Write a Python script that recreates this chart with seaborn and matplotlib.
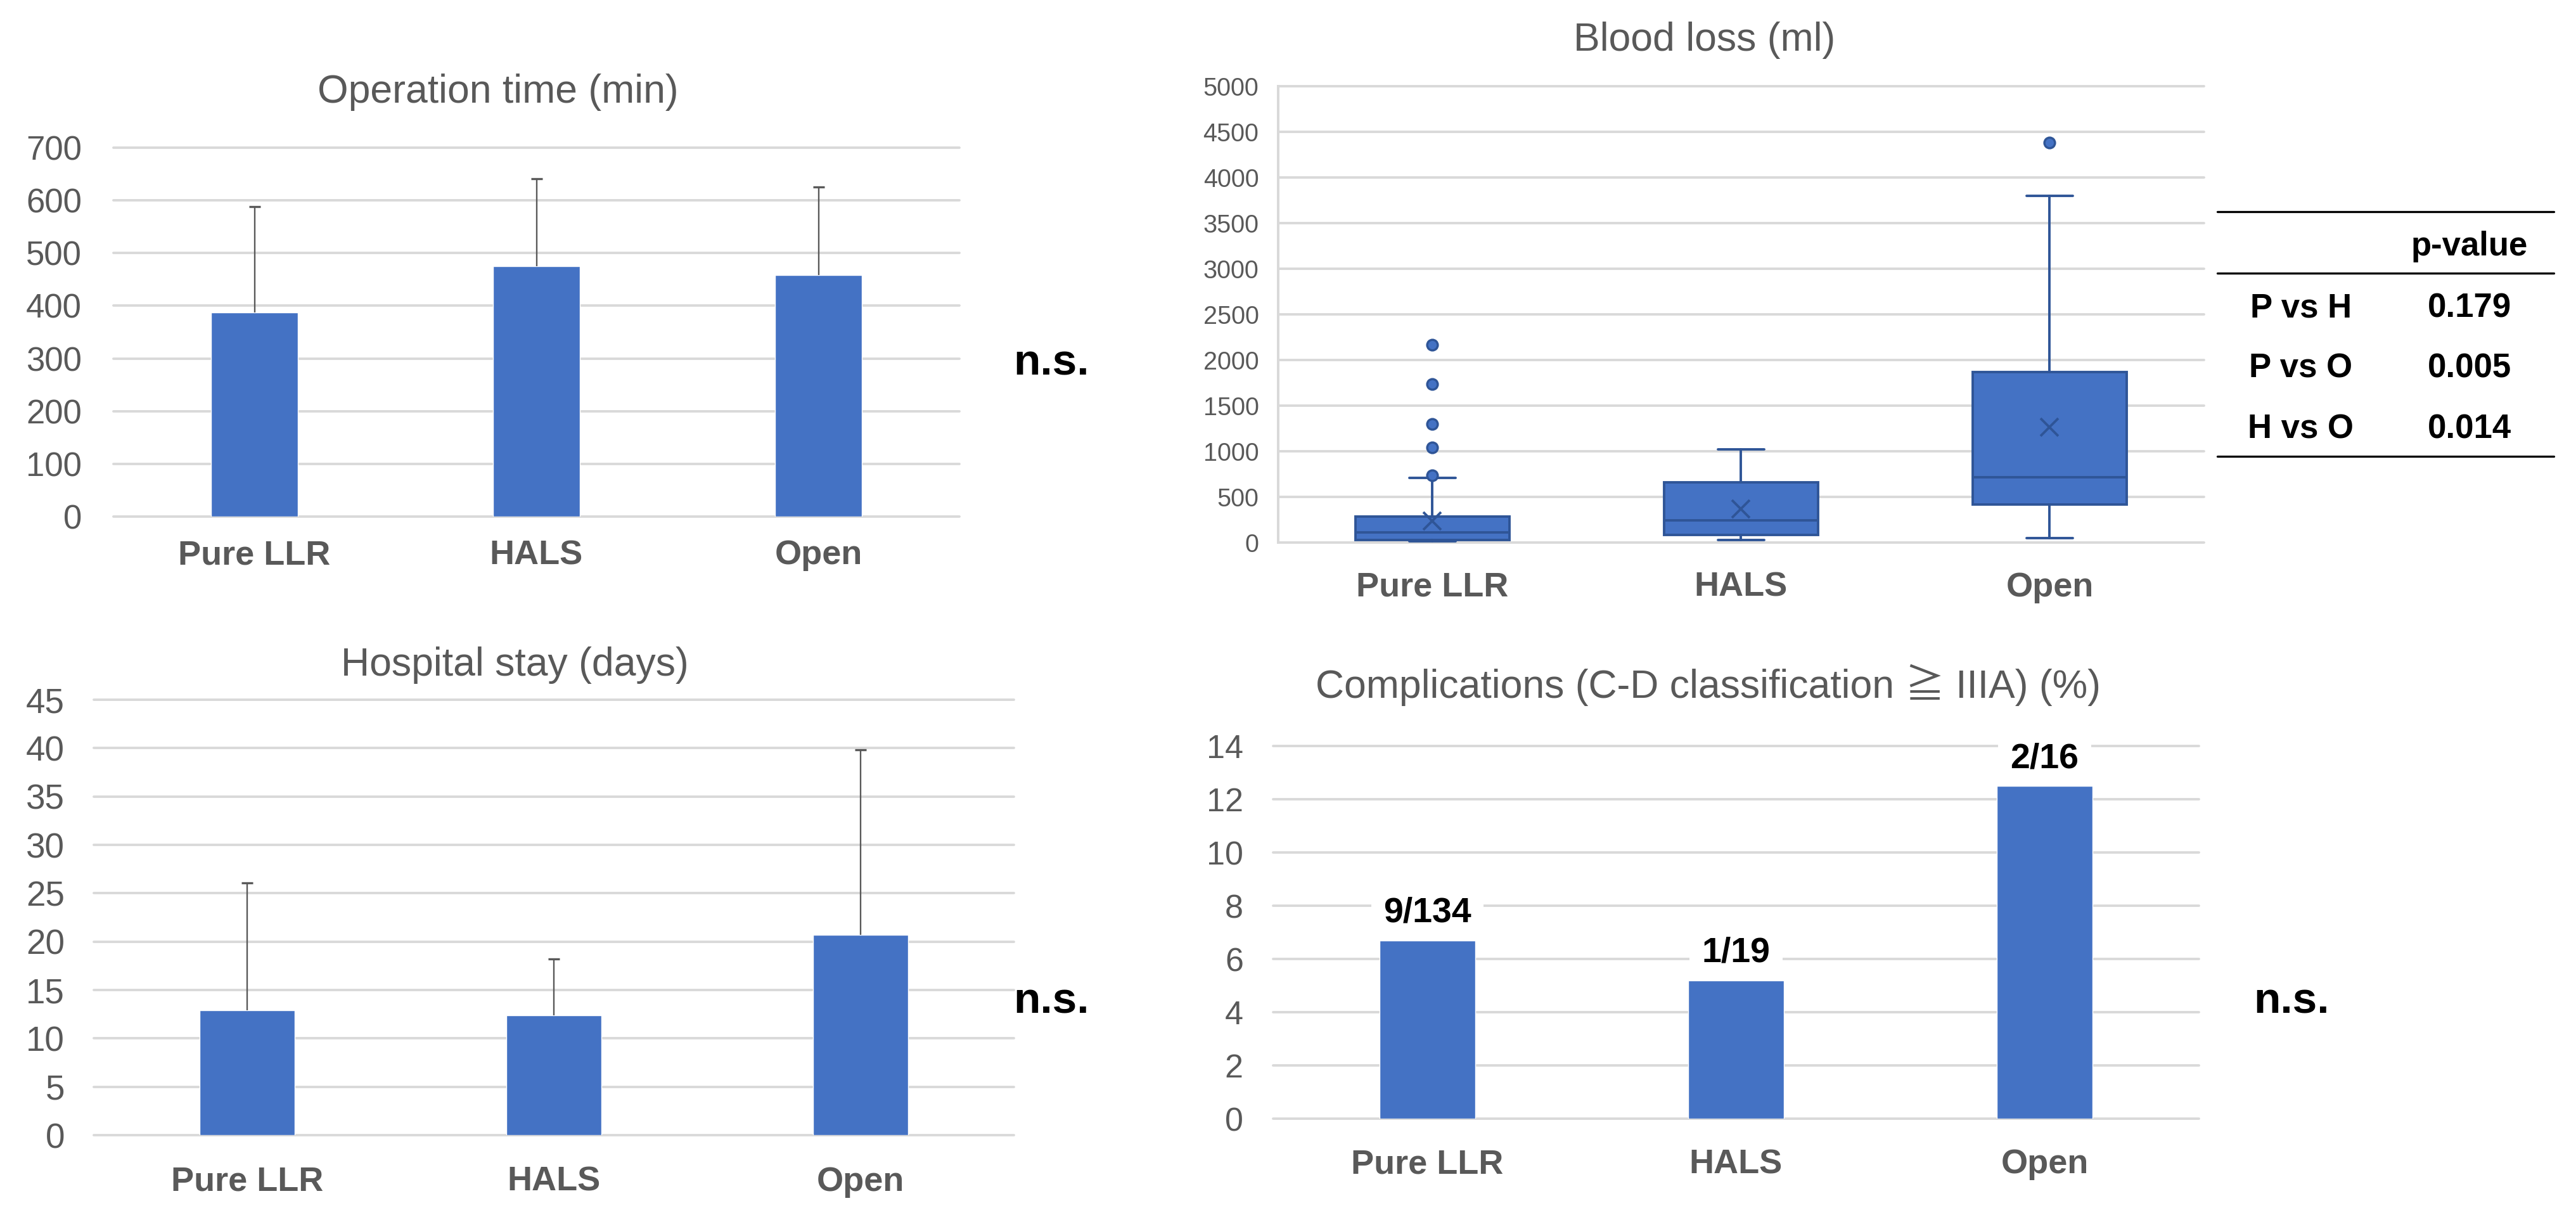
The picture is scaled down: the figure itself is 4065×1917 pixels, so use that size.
import numpy as np
import pandas as pd
import matplotlib
matplotlib.use("Agg")
import matplotlib.pyplot as plt
import seaborn as sns
from matplotlib.lines import Line2D

# ---------------- data ----------------
categories = ["Pure LLR", "HALS", "Open"]

op_mean = [387, 475, 458]
op_sd = [201, 166, 167]
op_ticks = [0, 100, 200, 300, 400, 500, 600, 700]

stay_mean = [12.9, 12.4, 20.7]
stay_sd = [13.2, 5.8, 19.1]
stay_ticks = [0, 5, 10, 15, 20, 25, 30, 35, 40, 45]

blood_whislo = [15, 30, 49]
blood_q1 = [28, 80, 419]
blood_med = [111, 243, 715]
blood_q3 = [285, 660, 1868]
blood_whishi = [710, 1023, 3796]
blood_mean = [237, 368, 1264]
blood_fliers = [[736, 1042, 1300, 1733, 2169], [], [4385]]
blood_ticks = [0, 500, 1000, 1500, 2000, 2500, 3000, 3500, 4000, 4500, 5000]

comp_pct = [6.7, 5.2, 12.5]
comp_labels = ["9/134", "1/19", "2/16"]
comp_ticks = [0, 2, 4, 6, 8, 10, 12, 14]

pv_rows = ["P vs H", "P vs O", "H vs O"]
pv_values = ["0.179", "0.005", "0.014"]

titles = ["Operation time (min)", "Blood loss (ml)", "Hospital stay (days)",
          "Complications (C-D classification \u2267 IIIA) (%)"]

# ---------------- style ----------------
sns.set_style("white")
plt.rcParams["font.family"] = ["Liberation Sans", "Noto Sans CJK JP", "DejaVu Sans"]

BLUE = "#4472C4"
DARK = "#2F5597"
GRID = "#D9D9D9"
GRAY = "#595959"

W, H = 4066, 1917
fig = plt.figure(figsize=(W / 100, H / 100), dpi=100)


def rect(x0, x1, ytop, ybot):
    return [x0 / W, 1 - ybot / H, (x1 - x0) / W, (ybot - ytop) / H]


def style_axes(ax, ticks, ytick_fs, ypad, xpad):
    ax.set_xlim(-0.5, len(categories) - 0.5)
    ax.set_ylim(ticks[0], ticks[-1])
    ax.set_yticks(ticks)
    ax.set_axisbelow(True)
    ax.yaxis.grid(True, color=GRID, linewidth=2.8)
    ax.xaxis.grid(False)
    for gl in ax.get_ygridlines():
        gl.set_clip_on(False)
    for s in ax.spines.values():
        s.set_visible(False)
    ax.tick_params(axis="y", length=0, pad=ypad, labelsize=ytick_fs, labelcolor=GRAY)
    ax.tick_params(axis="x", length=0, pad=xpad, labelsize=39, labelcolor=GRAY)
    for t in ax.get_xticklabels():
        t.set_fontweight("bold")
    ax.set_xlabel("")
    ax.set_ylabel("")


def bar_panel(ax, means, sds, ticks, ytick_fs, ypad, xpad):
    df = pd.DataFrame({"group": categories, "value": means})
    sns.barplot(data=df, x="group", y="value", color=BLUE, saturation=1,
                width=0.31, errorbar=None, ax=ax, zorder=2)
    if sds is not None:
        pos = np.arange(len(categories))
        _, caps, _ = ax.errorbar(pos, means, yerr=[np.zeros(len(sds)), sds],
                                 fmt="none", ecolor=GRAY, elinewidth=1.7,
                                 capsize=6.5, capthick=2.4, zorder=3)
        # one-sided (upper) error bars: hide the lower cap
        if len(caps) > 1:
            caps[0].set_visible(False)
    style_axes(ax, ticks, ytick_fs, ypad, xpad)


# Operation time
ax1 = fig.add_axes(rect(179, 1514, 233, 815))
bar_panel(ax1, op_mean, op_sd, op_ticks, 38, 36, 26)

# Hospital stay
ax3 = fig.add_axes(rect(148, 1600, 1104, 1791))
bar_panel(ax3, stay_mean, stay_sd, stay_ticks, 39.5, 33, 35)

# Complications
ax4 = fig.add_axes(rect(2009, 3470, 1177, 1765))
bar_panel(ax4, comp_pct, None, comp_ticks, 37.5, 34, 34)
for i, (v, lab) in enumerate(zip(comp_pct, comp_labels)):
    ax4.annotate(lab, (i, v), xytext=(0, 12), textcoords="offset points",
                 ha="center", va="bottom", fontsize=40, fontweight="bold",
                 color="black", zorder=1.5,
                 bbox=dict(boxstyle="square,pad=0.35", facecolor="white",
                           edgecolor="none"))

# Blood loss (box plot)
ax2 = fig.add_axes(rect(2017, 3478, 136, 856))
stats = []
for i, c in enumerate(categories):
    stats.append(dict(label=c, whislo=blood_whislo[i], q1=blood_q1[i],
                      med=blood_med[i], q3=blood_q3[i], whishi=blood_whishi[i],
                      mean=blood_mean[i], fliers=blood_fliers[i]))
ax2.bxp(stats, positions=np.arange(len(categories)), widths=0.5, capwidths=0.15,
        showmeans=True, meanline=False, patch_artist=True,
        boxprops=dict(facecolor=BLUE, edgecolor=DARK, linewidth=2.8),
        medianprops=dict(color=DARK, linewidth=2.8),
        whiskerprops=dict(color=DARK, linewidth=2.8),
        capprops=dict(color=DARK, linewidth=2.8),
        meanprops=dict(marker="x", markeredgecolor=DARK, markersize=20,
                       markeredgewidth=2.8),
        flierprops=dict(marker="o", markerfacecolor=BLUE, markeredgecolor=DARK,
                        markersize=12, markeredgewidth=2.5),
        zorder=2)
style_axes(ax2, blood_ticks, 28.5, 22, 33)
ax2.set_xticks(np.arange(len(categories)))
ax2.set_xticklabels(categories, fontweight="bold")
ax2.spines["left"].set_visible(True)
ax2.spines["left"].set_color(GRID)
ax2.spines["left"].set_linewidth(2.9)

# ---------------- titles ----------------
title_pos = [(786, 162), (2690, 80), (812, 1066), (2696, 1101)]
for t, (x, y) in zip(titles, title_pos):
    fig.text(x / W, 1 - y / H, t, ha="center", va="baseline", fontsize=45,
             color=GRAY)

# ---------------- n.s. ----------------
for (x, y) in [(1659, 591), (1659, 1598), (3616, 1598)]:
    fig.text(x / W, 1 - y / H, "n.s.", ha="center", va="baseline", fontsize=50,
             fontweight="bold", color="black")

# ---------------- p-value table ----------------
for y in [334, 431, 720]:
    fig.add_artist(Line2D([3499 / W, 4030 / W], [1 - y / H, 1 - y / H],
                          transform=fig.transFigure, color="black", linewidth=2.4))
fig.text(3897 / W, 1 - 403 / H, "p-value", ha="center", va="baseline",
         fontsize=38, fontweight="bold", color="black")
for lab, val, yb in zip(pv_rows, pv_values, [500, 596, 691]):
    fig.text(3631 / W, 1 - yb / H, lab, ha="center", va="baseline",
             fontsize=38, fontweight="bold", color="black")
    fig.text(3897 / W, 1 - yb / H, val, ha="center", va="baseline",
             fontsize=38, fontweight="bold", color="black")

fig.savefig("out.png", dpi=100, facecolor="white")
